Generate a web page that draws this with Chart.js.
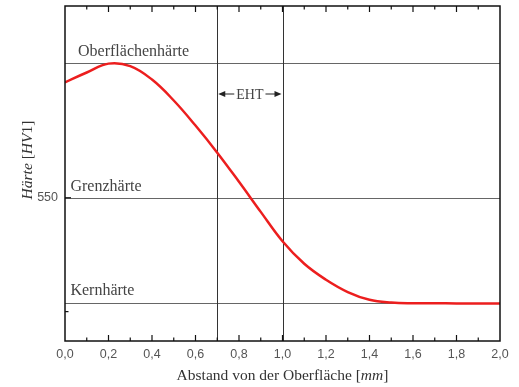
<!DOCTYPE html>
<html>
<head>
<meta charset="utf-8">
<script src="https://cdn.jsdelivr.net/npm/chart.js@4/dist/chart.umd.min.js"></script>
<style>
  html, body { margin: 0; padding: 0; background: #fff; }
  #wrap { width: 519px; height: 387px; }
</style>
</head>
<body>
<div id="wrap"><canvas id="c" width="519" height="387"></canvas></div>
<script>
// ---- data ----
const distances = [0.0, 0.1, 0.2, 0.3, 0.4, 0.5, 0.6, 0.7, 0.8, 0.9, 1.0,
                   1.1, 1.2, 1.3, 1.4, 1.5, 1.6, 1.7, 1.8, 1.9, 2.0];
const hardness  = [600.7, 605.0, 608.9, 607.8, 601.9, 592.7, 581.7, 569.8, 557.0, 543.8, 530.9,
                   521.0, 514.0, 508.6, 505.2, 504.0, 503.7, 503.7, 503.6, 503.6, 503.6];
const xTickValues = [0.0, 0.2, 0.4, 0.6, 0.8, 1.0, 1.2, 1.4, 1.6, 1.8, 2.0];
const yTickValues = [550];
const yMinorTicks = [500];
const levelNames  = ['Oberflächenhärte', 'Grenzhärte', 'Kernhärte'];
const levelValues = [609.0, 550, 503.6];
const ehtBounds   = [0.7, 1.0];
const xRange = [0, 2];
const yRange = [487.1, 634.2];

const SERIF = '"Liberation Serif", "DejaVu Serif", serif';
const SANS  = '"Liberation Sans", Arial, sans-serif';
const points = distances.map((d, i) => ({ x: d, y: hardness[i] }));

function measureMixed(ctx, parts, size) {
  let w = 0;
  parts.forEach(p => { ctx.font = (p[1] ? 'italic ' : '') + size + 'px ' + SERIF; w += ctx.measureText(p[0]).width; });
  return w;
}
function fillMixed(ctx, parts, size, x, y) {
  let cx = x;
  parts.forEach(p => {
    ctx.font = (p[1] ? 'italic ' : '') + size + 'px ' + SERIF;
    ctx.fillText(p[0], cx, y);
    cx += ctx.measureText(p[0]).width;
  });
}

const decor = {
  id: 'decor',
  beforeDatasetsDraw(chart) {
    const { ctx, chartArea: a, scales: { x, y } } = chart;
    ctx.save();
    ctx.strokeStyle = '#666';
    ctx.lineWidth = 1;
    levelValues.forEach(v => {
      const py = Math.round(y.getPixelForValue(v)) + 0.5;
      ctx.beginPath(); ctx.moveTo(a.left, py); ctx.lineTo(a.right, py); ctx.stroke();
    });
    ctx.strokeStyle = '#333';
    ehtBounds.forEach(v => {
      const px = Math.round(x.getPixelForValue(v)) + 0.5;
      ctx.beginPath(); ctx.moveTo(px, a.top); ctx.lineTo(px, a.bottom); ctx.stroke();
    });
    ctx.fillStyle = '#444';
    ctx.textBaseline = 'alphabetic';
    ctx.textAlign = 'left';
    ctx.font = '16px ' + SERIF;
    const lx = [x.getPixelForValue(0.06), x.getPixelForValue(0.025), x.getPixelForValue(0.025)];
    const ly = [y.getPixelForValue(levelValues[0]) - 7, y.getPixelForValue(levelValues[1]) - 6.5, y.getPixelForValue(levelValues[2]) - 8];
    levelNames.forEach((n, i) => ctx.fillText(n, lx[i], ly[i]));
    const x0 = x.getPixelForValue(ehtBounds[0]), x1 = x.getPixelForValue(ehtBounds[1]);
    const ay = 94;
    ctx.font = '14px ' + SERIF;
    const tw = ctx.measureText('EHT').width;
    const cx = (x0 + x1) / 2;
    ctx.textAlign = 'center';
    ctx.fillText('EHT', cx, ay + 5);
    ctx.strokeStyle = '#222'; ctx.fillStyle = '#222'; ctx.lineWidth = 1;
    const gap = 2;
    ctx.beginPath(); ctx.moveTo(cx - tw / 2 - gap, ay); ctx.lineTo(x0 + 6, ay); ctx.stroke();
    ctx.beginPath(); ctx.moveTo(x0 + 1, ay); ctx.lineTo(x0 + 8, ay - 3); ctx.lineTo(x0 + 8, ay + 3); ctx.closePath(); ctx.fill();
    ctx.beginPath(); ctx.moveTo(cx + tw / 2 + gap, ay); ctx.lineTo(x1 - 6, ay); ctx.stroke();
    ctx.beginPath(); ctx.moveTo(x1 - 1, ay); ctx.lineTo(x1 - 8, ay - 3); ctx.lineTo(x1 - 8, ay + 3); ctx.closePath(); ctx.fill();
    ctx.restore();
  },
  afterDraw(chart) {
    const { ctx, chartArea: a, scales: { x, y } } = chart;
    ctx.save();
    ctx.strokeStyle = '#111';
    ctx.lineWidth = 1.5;
    ctx.strokeRect(a.left, a.top, a.right - a.left, a.bottom - a.top);
    ctx.lineWidth = 1.2;
    for (let i = 1; i < 20; i++) {
      const px = x.getPixelForValue(i / 10);
      const len = (i % 2 === 0) ? 6 : 3.5;
      ctx.beginPath();
      ctx.moveTo(px, a.bottom); ctx.lineTo(px, a.bottom - len);
      ctx.moveTo(px, a.top); ctx.lineTo(px, a.top + len);
      ctx.stroke();
    }
    yTickValues.forEach(v => {
      const py = y.getPixelForValue(v);
      ctx.beginPath(); ctx.moveTo(a.left, py); ctx.lineTo(a.left + 6, py); ctx.stroke();
    });
    yMinorTicks.forEach(v => {
      const py = y.getPixelForValue(v);
      ctx.beginPath(); ctx.moveTo(a.left, py); ctx.lineTo(a.left + 3.5, py); ctx.stroke();
    });
    ctx.fillStyle = '#333';
    ctx.textBaseline = 'alphabetic';
    ctx.textAlign = 'left';
    const xt = [['Abstand von der Oberfläche [', false], ['mm', true], [']', false]];
    const fs = 15.5;
    const wx = measureMixed(ctx, xt, fs);
    fillMixed(ctx, xt, fs, (a.left + a.right) / 2 - wx / 2, 380);
    const yt = [['Härte', true], [' [', false], ['HV', true], ['1]', false]];
    const wy = measureMixed(ctx, yt, fs);
    ctx.translate(32, 160);
    ctx.rotate(-Math.PI / 2);
    fillMixed(ctx, yt, fs, -wy / 2, 0);
    ctx.restore();
  }
};

new Chart(document.getElementById('c'), {
  type: 'line',
  data: {
    datasets: [{
      data: points,
      borderColor: 'rgb(236, 30, 30)',
      borderWidth: 2.5,
      pointRadius: 0,
      tension: 0.4,
      fill: false
    }]
  },
  options: {
    responsive: false,
    animation: false,
    devicePixelRatio: 1,
    layout: { padding: { top: 6, right: 19, left: 0, bottom: 0 } },
    plugins: { legend: { display: false }, tooltip: { enabled: false } },
    scales: {
      x: {
        type: 'linear',
        min: xRange[0], max: xRange[1],
        afterBuildTicks: s => { s.ticks = xTickValues.map(v => ({ value: v })); },
        afterFit: s => { s.height = 46; s.paddingLeft = 0; s.paddingRight = 0; },
        grid: { display: false, drawTicks: false },
        border: { display: false },
        ticks: {
          padding: 6,
          maxRotation: 0,
          autoSkip: false,
          color: '#555',
          font: { family: SANS, size: 12.5 },
          callback: v => Number(v).toFixed(1).replace('.', ',')
        }
      },
      y: {
        type: 'linear',
        min: yRange[0], max: yRange[1],
        afterBuildTicks: s => { s.ticks = yTickValues.map(v => ({ value: v })); },
        afterFit: s => { s.width = 65; s.paddingTop = 0; s.paddingBottom = 0; },
        grid: { display: false, drawTicks: false },
        border: { display: false },
        ticks: {
          padding: 7,
          color: '#555',
          font: { family: SANS, size: 12.5 },
          callback: v => String(v)
        }
      }
    }
  },
  plugins: [decor]
});
</script>
</body>
</html>
